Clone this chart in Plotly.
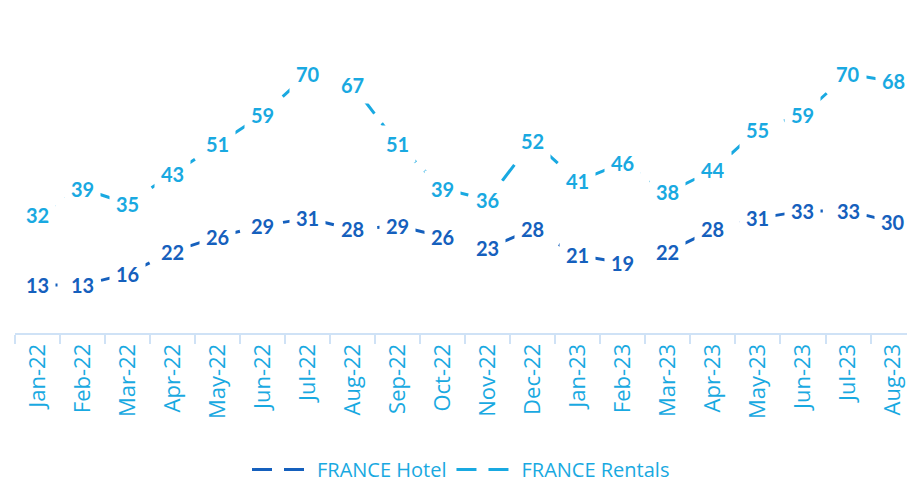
import plotly.graph_objects as go

months = ['Jan-22', 'Feb-22', 'Mar-22', 'Apr-22', 'May-22', 'Jun-22', 'Jul-22',
          'Aug-22', 'Sep-22', 'Oct-22', 'Nov-22', 'Dec-22', 'Jan-23', 'Feb-23',
          'Mar-23', 'Apr-23', 'May-23', 'Jun-23', 'Jul-23', 'Aug-23']
hotel = [13, 13, 16, 22, 26, 29, 31, 28, 29, 26, 23, 28, 21, 19, 22, 28, 31, 33, 33, 30]
rentals = [32, 39, 35, 43, 51, 59, 70, 67, 51, 39, 36, 52, 41, 46, 38, 44, 55, 59, 70, 68]

HOTEL_COL = '#1560BD'
RENT_COL = '#19A9E1'

fig = go.Figure()
for name, vals, col in [('FRANCE Hotel', hotel, HOTEL_COL),
                        ('FRANCE Rentals', rentals, RENT_COL)]:
    fig.add_trace(go.Scatter(
        x=months, y=vals, mode='lines', name=name,
        line=dict(color=col, width=3, dash='20px,12px'),
        hoverinfo='skip'
    ))
    # ラベル（白背景で線を隠す）
    for m, v in zip(months, vals):
        fig.add_annotation(
            x=m, y=v, text=str(v), showarrow=False,
            font=dict(family='Lato', size=20, color=col, weight='bold'),
            bgcolor='white', borderpad=6
        )

fig.update_layout(
    width=907, height=482,
    paper_bgcolor='white', plot_bgcolor='white',
    margin=dict(l=15, r=0, t=0, b=149, autoexpand=False),
    showlegend=True,
    legend=dict(orientation='h', x=0.5, xanchor='center', y=-0.41, yanchor='middle',
                font=dict(family='Open Sans', size=20, color=RENT_COL),
                itemwidth=60, tracegroupgap=0),
    xaxis=dict(
        type='category', range=[-0.5, 19.31], automargin=False,
        showline=True, linecolor='#CFE2F6', linewidth=2,
        ticks='outside', tickson='boundaries', ticklen=9, tickcolor='#CFE2F6',
        tickwidth=2, tickangle=-90, showgrid=False,
        tickfont=dict(family='Open Sans', size=22, color=RENT_COL)
    ),
    yaxis=dict(range=[0, 90], visible=False, showgrid=False, zeroline=False),
)

# ページの余白をなくす
fig.write_html('out.html', config={'displayModeBar': False},
               post_script="document.body.style.margin='0';")
